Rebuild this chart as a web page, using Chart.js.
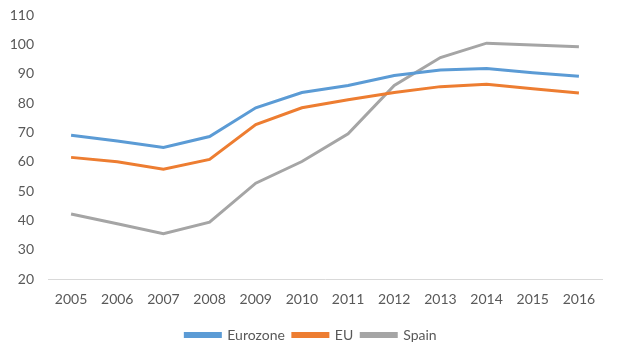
<!DOCTYPE html>
<html>
<head>
<meta charset="utf-8">
<script src="https://cdn.jsdelivr.net/npm/chart.js@4/dist/chart.umd.min.js"></script>
<style>
html,body{margin:0;padding:0;background:#fff;}
#c{display:block;}
</style>
</head>
<body>
<canvas id="c" width="620" height="357"></canvas>
<script>
const years = ["2005","2006","2007","2008","2009","2010","2011","2012","2013","2014","2015","2016"];
const eurozone = [69.0, 67.1, 64.9, 68.6, 78.4, 83.6, 86.0, 89.4, 91.3, 91.8, 90.3, 89.1];
const eu = [61.5, 60.0, 57.5, 60.8, 72.7, 78.4, 81.1, 83.6, 85.6, 86.4, 84.9, 83.4];
const spain = [42.2, 38.9, 35.5, 39.4, 52.7, 60.1, 69.5, 86.0, 95.5, 100.4, 99.8, 99.2];
const seriesNames = ["Eurozone", "EU", "Spain"];
const seriesColors = ["#5b9bd5", "#ed7d31", "#a5a5a5"];

const font = {family: "Lato, 'Open Sans', sans-serif", size: 14};
const textColor = "#595959";

const legendShift = {
  id: "legendShift",
  afterLayout(chart) {
    if (chart.legend) { chart.legend.left += 10; chart.legend.right += 10; }
  }
};

new Chart(document.getElementById("c"), {
  type: "line",
  data: {
    labels: years,
    datasets: [eurozone, eu, spain].map((d, i) => ({
      label: seriesNames[i],
      data: d,
      borderColor: seriesColors[i],
      backgroundColor: seriesColors[i],
      borderWidth: 3,
      pointRadius: 0,
      tension: 0,
      fill: false
    }))
  },
  plugins: [legendShift],
  options: {
    responsive: false,
    animation: false,
    devicePixelRatio: 1,
    layout: {padding: {top: 0, right: 18, left: 0, bottom: 5}},
    plugins: {
      legend: {
        position: "bottom",
        labels: {
          font: font,
          color: textColor,
          boxWidth: 35,
          boxHeight: 3,
          padding: 8
        }
      },
      tooltip: {enabled: false}
    },
    scales: {
      x: {
        offset: true,
        grid: {display: false, drawTicks: false},
        border: {display: true, color: "#d9d9d9", width: 1},
        ticks: {font: font, color: textColor, padding: 12, maxRotation: 0}
      },
      y: {
        min: 20,
        max: 110,
        grid: {display: false, drawTicks: false},
        border: {display: false},
        ticks: {stepSize: 10, font: font, color: textColor, padding: 14},
        afterFit: (s) => { s.width = 48; s.paddingTop = 15; }
      }
    }
  }
});
</script>
</body>
</html>
